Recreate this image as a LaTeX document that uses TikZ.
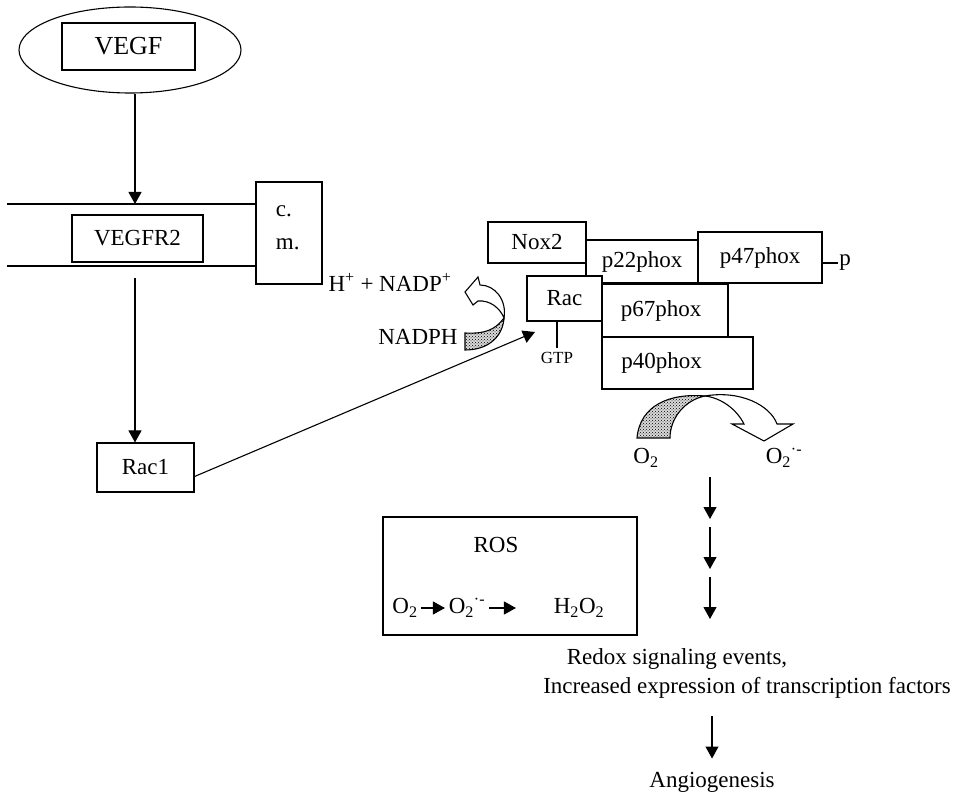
\documentclass[tikz,border=0pt]{standalone}
\usepackage{fontspec}
\setmainfont{Liberation Serif}
\usetikzlibrary{shapes.geometric,arrows.meta,patterns}

\begin{document}
\begin{tikzpicture}[x=1pt,y=-1pt,line width=1.1pt,
	every node/.style={font=\fontsize{23}{33}\selectfont},
	box/.style={draw,fill=white,inner sep=0pt},
	arr/.style={-{Triangle[width=13pt,length=12pt]}},
	speckle/.style={draw,preaction={fill=gray!30},pattern=crosshatch dots,pattern color=black}]
\useasboundingbox (0,0) rectangle (954,794);
\begin{scope}
	\node[ellipse,draw,minimum width=222pt,minimum height=86pt] (cell) at (130,50) {};
	\node[box,minimum width=133pt,minimum height=47pt,font=\fontsize{26}{30}\selectfont] (vegf) at (128.5,46.5) {VEGF};
	\node[box,minimum width=66pt,minimum height=102pt] (cm) at (289,233) {};
	\node[anchor=west,align=left] (cmtext) at (272,228) {c.\\m.};
	\coordinate (mtop) at (7,204);
	\coordinate (mbot) at (7,266);
	\draw (mtop) -- (mtop -| cm.west);
	\draw (mbot) -- (mbot -| cm.west);
	\node[box,minimum width=131pt,minimum height=47pt] (vegfr2) at (137.5,238.5) {VEGFR2};
	\node[box,minimum width=97pt,minimum height=49pt] (rac1) at (145.5,467.5) {Rac1};
	\coordinate (hit) at (135,204);
	\coordinate (leave) at (135,278);
	\draw[arr] (cell.south -| hit) -- (hit);
	\draw[arr] (leave) -- (leave |- rac1.north);
\end{scope}
\begin{scope}
	\node[box,minimum width=112pt,minimum height=43pt] (p22) at (642,261.5) {p22phox};
	\node[box,minimum width=124pt,minimum height=51pt] (p47) at (760,257.5) {p47phox};
	\node[box,minimum width=98pt,minimum height=41pt] (nox2) at (537,242.5) {Nox2};
	\node[box,minimum width=75pt,minimum height=45pt] (rac) at (564.5,298.5) {Rac};
	\node[box,minimum width=126pt,minimum height=53pt] (p67) at (665,310.5) {p67phox\hspace*{8pt}};
	\node[box,minimum width=151pt,minimum height=52pt] (p40) at (677.5,363) {p40phox\hspace*{32pt}};
	\node[inner sep=1pt] (phos) at (845,263) {p};
	\draw (p47.east |- phos) -- (phos.west);
	\node[font=\fontsize{17}{20}\selectfont] (gtp) at (557,358) {GTP};
	\draw (gtp.north |- rac.south) -- (gtp.north);
	\coordinate (racin) at (535,332);
	\draw[arr] ([yshift=-9pt]rac1.east) -- (racin);
\end{scope}
\begin{scope}
	\node (hnadp) at (390,282) {H\textsuperscript{+} + NADP\textsuperscript{+}};
	\node (nadph) at (418,336.5) {NADPH};
	\draw[speckle] (465,333) -- (465,350) .. controls (490,350) and (503,335) .. (504,318) .. controls (495,330) and (485,334) .. (465,333) -- cycle;
	\draw[fill=white] (504,318) .. controls (507,300) and (495,285) .. (480,285) -- (478,277) -- (465,292) -- (473,305) -- (478,301) .. controls (490,300) and (500,308) .. (504,318) -- cycle;
	\draw[speckle] (637,438) .. controls (640,405) and (670,393) .. (705,396) .. controls (685,400) and (670,418) .. (670,438) -- cycle;
	\draw[fill=white] (705,396) .. controls (740,390) and (770,405) .. (777,424) -- (793,424) -- (764,441) -- (732,424) -- (744,424) .. controls (737,410) and (722,398) .. (705,396) -- cycle;
	\node (o2a) at (646,458) {O\textsubscript{2}};
	\node (o2b) at (784,458) {O\textsubscript{2}\textsuperscript{·-}};
	\foreach \i/\y in {1/477,2/527,3/577}{
		\coordinate (down\i) at (710,\y);
		\draw[arr] (down\i) -- ++(0,42);
	}
\end{scope}
\begin{scope}
	\node[draw,minimum width=254pt,minimum height=118pt] (rosbox) at (510,576) {};
	\node (ros) at (496,545) {ROS};
	\node (r1) at (405,608) {O\textsubscript{2}};
	\node (r2) at (467,608) {O\textsubscript{2}\textsuperscript{·-}};
	\node (r3) at (579,608) {H\textsubscript{2}O\textsubscript{2}};
	\draw[arr] (r1) -- (r2);
	\draw[arr,shorten >=34pt] (r2) -- (r3);
\end{scope}
\begin{scope}
	\node (redox) at (677,659) {Redox signaling events,};
	\node (incr) at (747,687.5) {Increased expression of transcription factors};
	\node (angio) at (712,782.5) {Angiogenesis};
	\draw[arr,shorten <=14pt,shorten >=10pt] (incr.south -| angio.north) -- (angio.north);
\end{scope}
\end{tikzpicture}
\end{document}
